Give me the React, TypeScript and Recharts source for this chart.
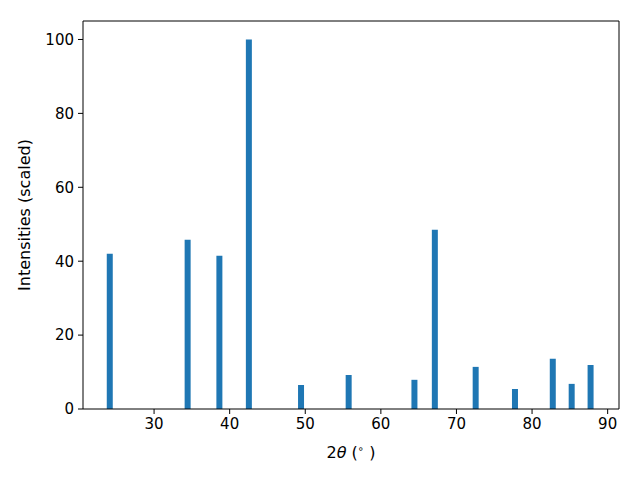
import React from "react";
import { BarChart, Bar, XAxis, YAxis, ReferenceLine } from "recharts";

// 2θ peak positions (degrees) and scaled intensities
const twoTheta = [24.2, 34.5, 38.7, 42.6, 49.5, 55.8, 64.5, 67.2, 72.6, 77.8, 82.8, 85.3, 87.8];
const intensity = [42.0, 45.8, 41.5, 100, 6.5, 9.2, 7.9, 48.5, 11.4, 5.4, 13.6, 6.8, 11.9];
const xTicks = [30, 40, 50, 60, 70, 80, 90];
const yTicks = [0, 20, 40, 60, 80, 100];

const data = twoTheta.map((x, i) => ({ x, y: intensity[i] }));

const X_MIN = 20.6;
const X_MAX = 91.5;
const Y_MAX = 105;

const font = "'DejaVu Sans', sans-serif";
const tickStyle = { fill: "#000", fontSize: 15, fontFamily: font };

const YLabel = (props: any) => {
  const { viewBox } = props;
  const cy = viewBox.y + viewBox.height / 2;
  const x = 30;
  return (
    <text
      x={x}
      y={cy}
      transform={`rotate(-90, ${x}, ${cy})`}
      textAnchor="middle"
      fontSize={16}
      fontFamily={font}
      fill="#000"
    >
      Intensities (scaled)
    </text>
  );
};

const XLabel = (props: any) => {
  const { viewBox } = props;
  const cx = viewBox.x + viewBox.width / 2;
  return (
    <text x={cx} y={458} textAnchor="middle" fontSize={16} fontFamily={font} fill="#000">
      2<tspan fontStyle="italic">θ</tspan> (
      <tspan fontSize={10} dy={-6}>∘</tspan>
      <tspan dy={6}> )</tspan>
    </text>
  );
};

export default function App() {
  return (
    <div style={{ position: "absolute", left: 0, top: 0, background: "#fff" }}>
      <BarChart
        width={640}
        height={480}
        data={data}
        margin={{ top: 21, right: 21, bottom: 0, left: 0 }}
      >
        <XAxis
          dataKey="x"
          type="number"
          domain={[X_MIN, X_MAX]}
          ticks={xTicks}
          allowDataOverflow
          height={71}
          stroke="#000"
          tickSize={5}
          tickMargin={4}
          tick={tickStyle}
          tickLine={{ stroke: "#000" }}
          label={<XLabel />}
        />
        <YAxis
          type="number"
          domain={[0, Y_MAX]}
          ticks={yTicks}
          allowDataOverflow
          width={83}
          stroke="#000"
          tickSize={5}
          tickMargin={4}
          tick={tickStyle}
          tickLine={{ stroke: "#000" }}
          label={<YLabel />}
        />
        <Bar dataKey="y" fill="#1f77b4" barSize={6} isAnimationActive={false} />
        <ReferenceLine y={Y_MAX} stroke="#000" ifOverflow="visible" />
        <ReferenceLine x={X_MAX} stroke="#000" ifOverflow="visible" />
      </BarChart>
    </div>
  );
}
